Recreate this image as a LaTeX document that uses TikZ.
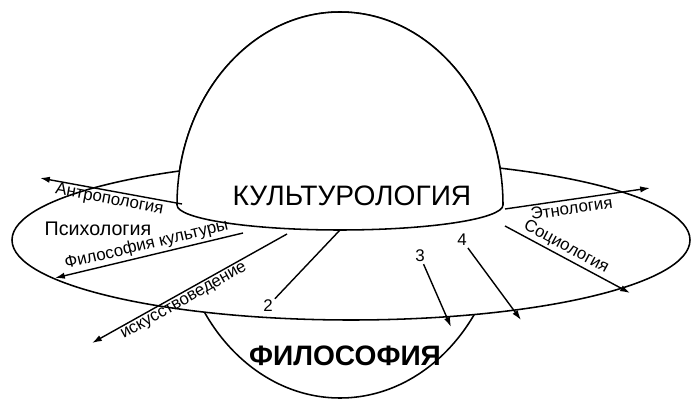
\documentclass[tikz,border=0pt]{standalone}
\usepackage{fontspec}
\setmainfont{Liberation Sans}
\usetikzlibrary{arrows.meta}

\tikzset{
  ray/.style={line width=1pt, -{Latex[length=7pt,width=4.5pt]}},
  raylabel/.style={sloped, above, inner sep=1.5pt, font=\fontsize{12}{14}\selectfont},
  numlabel/.style={inner sep=1pt, font=\fontsize{12}{14}\selectfont},
}

\begin{document}
\begin{tikzpicture}[x=0.025cm, y=-0.025cm, line width=1.1pt]
  \useasboundingbox (0,0) rectangle (694,418);
  % Planet centre and radii
  \def\cx{340}
  \def\cy{205}
  \def\rx{163}
  \def\ry{193}
  % Planet (lower bowl stays visible)
  \draw (\cx,\cy) ellipse [x radius=\rx, y radius=\ry];
  % Ring
  \draw[fill=white] (351,240) ellipse [x radius=339, y radius=80];
  % Upper dome with equator
  \draw[fill=white] (\cx-\rx,\cy) arc[start angle=180, end angle=360, x radius=\rx, y radius=\ry]
    arc[start angle=0, end angle=180, x radius=\rx, y radius=25];
  % Main labels
  \node[font=\fontsize{20}{22}\selectfont] (kult) at (352,196) {КУЛЬТУРОЛОГИЯ};
  \node[font=\bfseries\fontsize{20}{22}\selectfont] (filos) at (345,356) {ФИЛОСОФИЯ};
  \node[font=\fontsize{14}{16}\selectfont] (psych) at (98,229) {Психология};
  % Start and end points of the rays
  \coordinate (antrA) at (182,204);
  \coordinate (antrB) at (40,178);
  \coordinate (philA) at (243,233);
  \coordinate (philB) at (55,278);
  \coordinate (artA) at (287,234);
  \coordinate (artB) at (92,343);
  \coordinate (twoA) at (340,230);
  \coordinate (etnA) at (505,209);
  \coordinate (etnB) at (650,188);
  \coordinate (socA) at (505,226);
  \coordinate (socB) at (630,293);
  \coordinate (threeB) at (451,327);
  \coordinate (fourB) at (521,320);
  % Numbered rays
  \node[numlabel] (two) at (268,306) {2};
  \node[numlabel] (three) at (420,256) {3};
  \node[numlabel] (four) at (462,240) {4};
  % Rays
  \draw[ray] (antrA) -- (antrB) node[raylabel, pos=0.5, below, inner sep=0.5pt] {Антропология};
  \draw[ray] (philA) -- (philB) node[raylabel, pos=0.5] {Философия культуры};
  \draw[ray] (artA) -- (artB) node[raylabel, pos=0.55, below] {искусствоведение};
  \draw[ray] (etnA) -- (etnB) node[raylabel, pos=0.45, below] {Этнология};
  \draw[ray] (socA) -- (socB) node[raylabel, pos=0.45] {Социология};
  \draw[line width=1pt] (twoA) -- (two);
  \draw[ray] (three) -- (threeB);
  \draw[ray] (four) -- (fourB);
\end{tikzpicture}
\end{document}
